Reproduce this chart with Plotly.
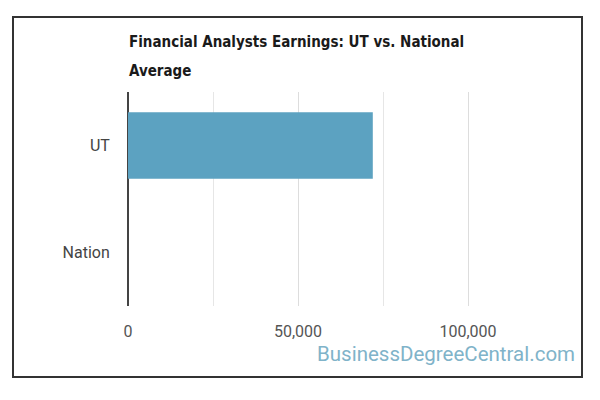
import plotly.graph_objects as go

categories = ["UT", "Nation"]
earnings = [72000, None]
x_tickvals = [0, 50000, 100000]
x_ticktext = ["0", "50,000", "100,000"]
title_line1 = "Financial Analysts Earnings: UT vs. National"
title_line2 = "Average"
watermark = "BusinessDegreeCentral.com"

fig = go.Figure()
fig.add_trace(go.Bar(
    y=categories, x=earnings, orientation="h",
    marker=dict(color="#5ca2c1", line=dict(width=0)),
    hoverinfo="x+y",
))

L, R, T, B = 128, 64, 92, 94
W, H = 600, 400
pw, ph = W - L - R, H - T - B

def px(x):
    return (x - L) / pw

def py(y):
    return (H - B - y) / ph

title_font = dict(family="DejaVu Sans Condensed, Liberation Sans Narrow, sans-serif",
                  size=15, color="#1a1a1a", weight="bold")

fig.update_layout(
    width=W, height=H,
    margin=dict(l=L, r=R, t=T, b=B),
    paper_bgcolor="white", plot_bgcolor="white",
    showlegend=False,
    bargap=0.38,
    font=dict(family="Roboto, Arial, sans-serif", size=16, color="#555555"),
    xaxis=dict(
        range=[0, 120000],
        tickvals=x_tickvals, ticktext=x_ticktext,
        showgrid=True, gridcolor="#dddddd", gridwidth=1,
        minor=dict(dtick=25000, tick0=0, showgrid=True, gridcolor="#e6e6e6", gridwidth=1),
        zeroline=True, zerolinecolor="#444444", zerolinewidth=2,
        showline=False,
        ticks="outside", ticklen=11, tickcolor="rgba(0,0,0,0)",
        tickfont=dict(size=16, color="#555555"),
        fixedrange=True,
    ),
    yaxis=dict(
        categoryorder="array", categoryarray=categories,
        range=[1.5, -0.5],
        showgrid=False, zeroline=False, showline=False,
        ticks="outside", ticklen=14, tickcolor="rgba(0,0,0,0)",
        tickfont=dict(size=16, color="#444444"),
        fixedrange=True,
    ),
    shapes=[dict(
        type="rect", xref="paper", yref="paper",
        x0=px(13), x1=px(582), y0=py(377), y1=py(17),
        line=dict(color="#333333", width=2), fillcolor="rgba(0,0,0,0)",
        layer="above",
    )],
    annotations=[
        dict(text=title_line1, xref="paper", yref="paper", x=px(127), y=py(42),
             xanchor="left", yanchor="middle", showarrow=False, font=title_font),
        dict(text=title_line2, xref="paper", yref="paper", x=px(127), y=py(71),
             xanchor="left", yanchor="middle", showarrow=False, font=title_font),
        dict(text=watermark, xref="paper", yref="paper", x=px(577), y=py(354),
             xanchor="right", yanchor="middle", showarrow=False,
             font=dict(family="Roboto, Arial, sans-serif", size=20.5, color="#80b3c9")),
    ],
)

fig.write_html("out.html", config={"displayModeBar": False},
               post_script="document.body.style.margin='0';")
